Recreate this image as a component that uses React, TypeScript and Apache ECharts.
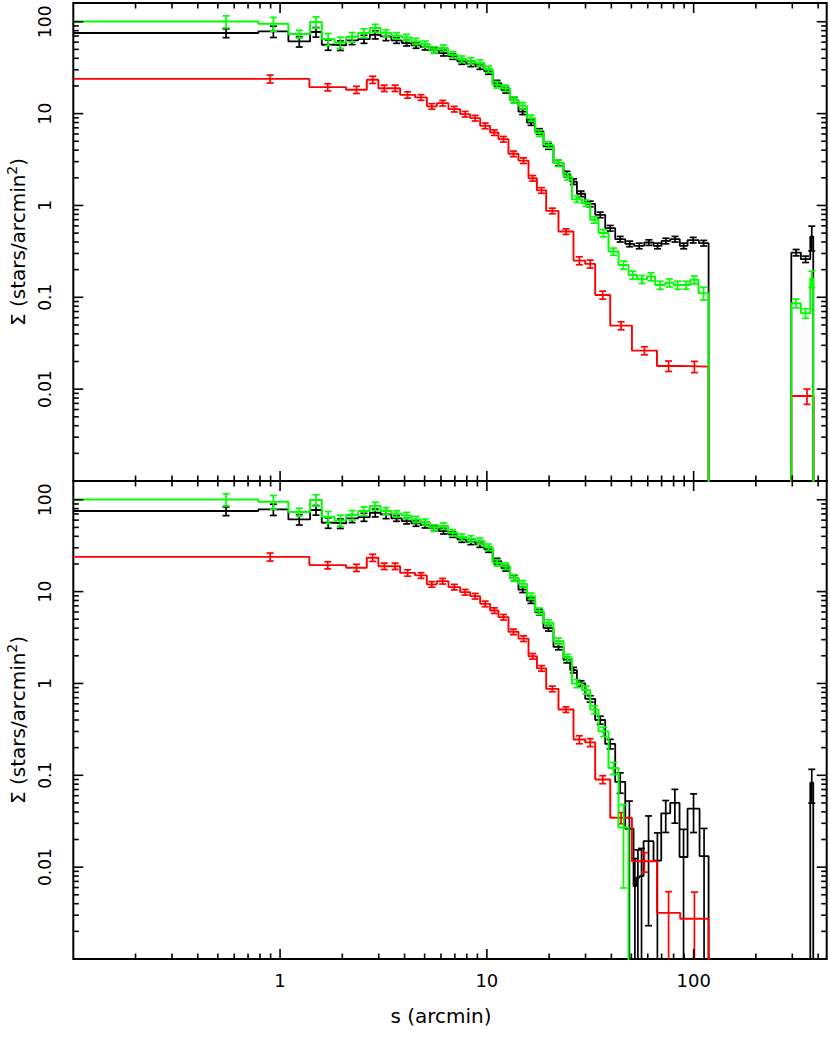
import React, { useEffect, useRef } from "react";
import * as echarts from "echarts";

// ---------- axes ----------
const X_MIN = 0.1;
const X_MAX = 440;
const Y_MIN = 0.001;
const Y_MAX = 160;
const X_TICK_LABELS = ["1", "10", "100"]; // decades 10^0..10^2
const Y_TICK_LABELS = ["0.01", "0.1", "1", "10", "100"]; // decades 10^-2..10^2
const X_TITLE = "s (arcmin)";
const Y_TITLE = "{n|Σ (stars/arcmin}{s|2}{n|)}";
const FONT = "DejaVu Sans";

// ---------- bin edges (arcmin) ----------
const innerEdges = [0.1, 0.785, 1.097, 1.397, 1.591, 1.835, 2.086, 2.384, 2.716, 3.064, 3.455, 3.879, 4.317, 4.783, 5.289, 5.859, 6.5, 7.201, 7.958, 8.809, 9.726, 10.67, 11.76, 12.94, 14.22, 15.62, 17.13, 18.79, 21.0, 23.48];
const greenOuterEdges = [25.78, 28.82, 31.61, 34.67, 38.76, 43.32, 48.42, 53.18, 59.44, 65.2, 72.88, 79.96, 87.79, 96.3, 105.6, 118.1];
const greenBottomOuterEdges = [25.78, 28.82, 31.61, 34.67, 38.76, 43.32, 48.42];
const blackTopOuterEdges = [25.29, 27.25, 29.9, 33.41, 37.35, 41.75, 46.68, 51.6, 57.68, 63.97, 69.95, 77.05, 85.66, 93.43, 105.9, 118.1];
const blackBottomOuterEdges = [25.29, 27.25, 29.9, 33.41, 37.35, 41.75, 46.68, 51.21, 52.77, 54.74, 57.24, 63.97, 69.72, 77.05, 85.46, 93.43, 106.8, 118.1];
const farEdgesTop = [296.7, 330, 366.5, 378.8];
const farEdgesBottomBlack = [366.5, 378.8];
const redEdges = [0.1, 1.386, 2.086, 2.627, 2.989, 3.405, 3.807, 4.499, 5.126, 5.73, 6.52, 7.428, 8.302, 9.282, 10.37, 11.38, 12.72, 14.22, 15.9, 17.46, 19.36, 22.2, 26.24, 29.9, 33.41, 39.5, 50.29, 66.45, 86.12, 118.1];
const redFarEdges = [296.7, 380.2];

// ---------- values (stars/arcmin^2) ----------
const greenInner = [100.8, 95.1, 73.5, 99.2, 64.7, 59.6, 68.1, 75.3, 85.3, 75.3, 70.4, 67.5, 61.1, 57.1, 49.5, 51.7, 43.7, 39.2, 37.6, 35.5, 30.5, 20.6, 18.9, 14.1, 12.2, 8.92, 6.13, 4.57, 2.89];
const greenTopOuter = [2.06, 1.17, 1.06, 0.697, 0.5, 0.315, 0.225, 0.175, 0.157, 0.168, 0.136, 0.144, 0.136, 0.136, 0.155, 0.111];
const greenTopFar = [0, 0.0863, 0.0671, 0.16];
const greenBottomOuter = [1.92, 1.0, 0.85, 0.52, 0.3, 0.12, 0.027];

const blackInner = [75.4, 78.4, 61.0, 77.3, 56.2, 55.3, 62.6, 64.7, 72.2, 69.2, 62.6, 58.6, 55.3, 53.0, 48.8, 45.6, 41.9, 37.0, 34.9, 32.6, 28.8, 21.5, 18.0, 14.0, 10.5, 8.0, 6.4, 4.4, 2.9];
const blackBottomInner = [75.4, 78.4, 61.0, 77.3, 56.2, 55.3, 62.6, 64.7, 72.2, 69.2, 62.6, 58.6, 55.3, 53.0, 48.8, 45.6, 41.9, 37.0, 34.9, 32.6, 28.8, 21.5, 18.0, 14.0, 10.5, 8.0, 6.0, 4.0, 2.5];
const blackTopOuter = [2.2, 1.82, 1.34, 1.04, 0.79, 0.566, 0.43, 0.382, 0.363, 0.395, 0.363, 0.411, 0.43, 0.363, 0.42, 0.389];
const blackTopFar = [0, 0.307, 0.26, 0.458];
const blackBottomOuter = [1.8, 1.4, 1.0, 0.68, 0.4, 0.22, 0.085, 0.0262, 0.0062, 0.0077, 0.008, 0.0192, 0.0118, 0.0385, 0.0502, 0.0129, 0.0433, 0.0132];
const blackBottomFar = [0, 0.083];

const redInner = [23.9, 19.4, 18.2, 23.4, 18.9, 18.9, 16.0, 15.0, 12.0, 13.0, 11.2, 9.87, 8.93, 7.36, 6.22, 5.27, 3.65, 3.08, 1.98, 1.46, 0.873, 0.52, 0.251, 0.231, 0.106, 0.0492, 0.0263, 0.0179, 0.0176];
const redTopFar = [0, 0.00843];
const redBottom = [23.9, 19.4, 18.2, 23.4, 18.9, 18.9, 16.0, 15.0, 12.0, 13.0, 11.2, 9.87, 8.93, 7.36, 6.22, 5.27, 3.65, 3.08, 1.98, 1.46, 0.873, 0.52, 0.245, 0.228, 0.09, 0.0345, 0.0116, 0.00318, 0.00274];

// ---------- relative 1-sigma errors ----------
const greenInnerErr = [0.15, 0.17, 0.1, 0.14, 0.15, 0.14, 0.12, 0.11, 0.1, 0.09, 0.08, 0.08, 0.08, 0.08, 0.08, 0.08, 0.08, 0.08, 0.08, 0.08, 0.08, 0.08, 0.08, 0.08, 0.08, 0.08, 0.08, 0.08, 0.08];
const greenTopOuterErr = [0.08, 0.08, 0.08, 0.08, 0.09, 0.09, 0.1, 0.1, 0.1, 0.1, 0.1, 0.1, 0.1, 0.1, 0.1, 0.16];
const greenTopFarErr = [0, 0.11, 0.12, 0.2];
const greenBottomOuterErr = [0.08, 0.1, 0.1, 0.1, 0.12, 0.15, 0.78];

const blackInnerErr = [0.11, 0.14, 0.13, 0.12, 0.13, 0.12, 0.1, 0.1, 0.1, 0.1, 0.07, 0.07, 0.07, 0.07, 0.07, 0.07, 0.07, 0.07, 0.07, 0.07, 0.07, 0.07, 0.07, 0.07, 0.07, 0.07, 0.07, 0.07, 0.07];
const blackTopOuterErr = [0.07, 0.07, 0.07, 0.07, 0.07, 0.07, 0.07, 0.07, 0.07, 0.07, 0.07, 0.07, 0.07, 0.07, 0.07, 0.07];
const blackTopFarErr = [0, 0.08, 0.08, 0.3];
const blackBottomOuterErr = [0.07, 0.07, 0.07, 0.08, 0.1, 0.12, 0.25, 1.0, 1.0, 1.0, 1.0, 0.88, 1.0, 0.38, 0.4, 1.0, 0.45, 1.0];
const blackBottomFarErr = [0, 0.4];

const redInnerErr = [0.1, 0.09, 0.09, 0.09, 0.08, 0.08, 0.08, 0.07, 0.07, 0.07, 0.07, 0.07, 0.07, 0.07, 0.07, 0.07, 0.07, 0.07, 0.07, 0.07, 0.07, 0.07, 0.1, 0.1, 0.1, 0.1, 0.1, 0.13, 0.14];
const redTopFarErr = [0, 0.19];
const redBottomErr = [0.1, 0.09, 0.09, 0.09, 0.08, 0.08, 0.08, 0.07, 0.07, 0.07, 0.07, 0.07, 0.07, 0.07, 0.07, 0.07, 0.07, 0.07, 0.07, 0.07, 0.07, 0.07, 0.1, 0.1, 0.1, 0.14, 0.24, 0.7, 0.95];

// mean radius of the stars in the first (wide) bin and other special bins
const blackFirstBarX = 0.548;
const greenFirstBarX = 0.548;
const redFirstBarX = 0.895;
const redFarBarX = 353.3;

const BLACK = "#000000";
const RED = "#ff0000";
const GREEN = "#00ff00";
const FLOOR = 1e-7; // empty bins drop below the axis

function stepData(edges: number[], vals: number[]) {
  const pts: number[][] = [];
  vals.forEach((v, i) => pts.push([edges[i], v > 0 ? v : FLOOR]));
  const last = vals[vals.length - 1];
  pts.push([edges[vals.length], last > 0 ? last : FLOOR]);
  pts.push([edges[vals.length], FLOOR]);
  return pts;
}

function errData(edges: number[], vals: number[], errs: number[], overrides: Record<number, number>) {
  const out: number[][] = [];
  vals.forEach((v, i) => {
    if (!(v > 0)) return;
    const x = overrides[i] !== undefined ? overrides[i] : Math.sqrt(edges[i] * edges[i + 1]);
    const s = v * errs[i];
    out.push([x, v, v - s, v + s]);
  });
  return out;
}

function errRender(color: string) {
  return (params: any, api: any) => {
    const cs = params.coordSys;
    const top = cs.y;
    const bottom = cs.y + cs.height;
    const x = api.value(0);
    const v = api.value(1);
    const lo = api.value(2);
    const hi = api.value(3);
    const px = api.coord([x, v])[0];
    const yHi = api.coord([x, hi])[1];
    const yLo = lo > 0 ? api.coord([x, lo])[1] : bottom + 100;
    const y1 = Math.max(top, yHi);
    const y2 = Math.min(bottom, yLo);
    const st = { stroke: color, lineWidth: 1.7 };
    const ch: any[] = [];
    if (y2 > y1) ch.push({ type: "line", shape: { x1: px, y1, x2: px, y2 }, style: st });
    const cw = 3.5;
    if (yHi >= top && yHi <= bottom) ch.push({ type: "line", shape: { x1: px - cw, y1: yHi, x2: px + cw, y2: yHi }, style: st });
    if (yLo >= top && yLo <= bottom) ch.push({ type: "line", shape: { x1: px - cw, y1: yLo, x2: px + cw, y2: yLo }, style: st });
    return { type: "group", children: ch };
  };
}

function decadeMinors(decades: number[], max: number) {
  const out: number[] = [];
  decades.forEach((d) => {
    for (let m = 2; m <= 9; m++) {
      const v = d * m;
      if (v < max) out.push(v);
    }
  });
  return out;
}

const X_MAJOR = [1, 10, 100];
const X_MINOR = decadeMinors([0.1, 1, 10, 100], X_MAX);
const Y_MAJOR = [0.01, 0.1, 1, 10, 100];
const Y_MINOR = decadeMinors([0.001, 0.01, 0.1, 1, 10, 100], Y_MAX);

function tickSeries(gi: number, kind: "x" | "y") {
  const maj = kind === "x" ? X_MAJOR : Y_MAJOR;
  const min = kind === "x" ? X_MINOR : Y_MINOR;
  const items = [...maj.map((v) => [v, 10]), ...min.map((v) => [v, 5.5])];
  const data = items.map(([v, len]) => (kind === "x" ? [v, 1, len] : [1, v, len]));
  return {
    type: "custom",
    xAxisIndex: gi,
    yAxisIndex: gi,
    silent: true,
    clip: false,
    z: 20,
    data,
    renderItem: (params: any, api: any) => {
      const cs = params.coordSys;
      const len = api.value(2);
      const st = { stroke: "#000", lineWidth: 1.6 };
      if (kind === "x") {
        const px = api.coord([api.value(0), 1])[0];
        return {
          type: "group",
          children: [
            { type: "line", shape: { x1: px, y1: cs.y + cs.height, x2: px, y2: cs.y + cs.height - len }, style: st },
            { type: "line", shape: { x1: px, y1: cs.y, x2: px, y2: cs.y + len }, style: st },
          ],
        };
      }
      const py = api.coord([1, api.value(1)])[1];
      return {
        type: "group",
        children: [
          { type: "line", shape: { x1: cs.x, y1: py, x2: cs.x + len, y2: py }, style: st },
          { type: "line", shape: { x1: cs.x + cs.width, y1: py, x2: cs.x + cs.width - len, y2: py }, style: st },
        ],
      };
    },
  };
}

function lineSeries(gi: number, edges: number[], vals: number[], color: string, z: number, width: number) {
  return {
    type: "line",
    xAxisIndex: gi,
    yAxisIndex: gi,
    data: stepData(edges, vals),
    step: "end",
    symbol: "none",
    showSymbol: false,
    clip: true,
    silent: true,
    z,
    lineStyle: { color, width },
    itemStyle: { color },
  };
}

function errSeries(gi: number, edges: number[], vals: number[], errs: number[], color: string, z: number, overrides: Record<number, number>) {
  return {
    type: "custom",
    xAxisIndex: gi,
    yAxisIndex: gi,
    silent: true,
    clip: true,
    z,
    data: errData(edges, vals, errs, overrides),
    renderItem: errRender(color),
  };
}

function fmtX(v: number) {
  const e = Math.log10(v);
  const r = Math.round(e);
  if (Math.abs(e - r) > 1e-6) return "";
  return X_TICK_LABELS[r] ?? "";
}
function fmtY(v: number) {
  const e = Math.log10(v);
  const r = Math.round(e);
  if (Math.abs(e - r) > 1e-6) return "";
  return Y_TICK_LABELS[r + 2] ?? "";
}

function buildOption() {
  const greenTopEdges = [...innerEdges, ...greenOuterEdges, ...farEdgesTop];
  const greenTopVals = [...greenInner, ...greenTopOuter, ...greenTopFar];
  const greenTopErrs = [...greenInnerErr, ...greenTopOuterErr, ...greenTopFarErr];
  const greenBotEdges = [...innerEdges, ...greenBottomOuterEdges];
  const greenBotVals = [...greenInner, ...greenBottomOuter];
  const greenBotErrs = [...greenInnerErr, ...greenBottomOuterErr];

  const blackTopEdges = [...innerEdges, ...blackTopOuterEdges, ...farEdgesTop];
  const blackTopVals = [...blackInner, ...blackTopOuter, ...blackTopFar];
  const blackTopErrs = [...blackInnerErr, ...blackTopOuterErr, ...blackTopFarErr];
  const blackBotEdges = [...innerEdges, ...blackBottomOuterEdges, ...farEdgesBottomBlack];
  const blackBotVals = [...blackBottomInner, ...blackBottomOuter, ...blackBottomFar];
  const blackBotErrs = [...blackInnerErr, ...blackBottomOuterErr, ...blackBottomFarErr];

  const redTopEdges = [...redEdges, ...redFarEdges];
  const redTopVals = [...redInner, ...redTopFar];
  const redTopErrs = [...redInnerErr, ...redTopFarErr];

  const grids = [
    { left: 73.3, top: 3, width: 753.4, height: 478 },
    { left: 73.3, top: 481, width: 753.4, height: 478 },
  ];

  const titleRich = {
    n: { fontSize: 20, fontFamily: FONT, fill: "#000", color: "#000", lineHeight: 26 },
    s: { fontSize: 14, fontFamily: FONT, fill: "#000", color: "#000", verticalAlign: "top", lineHeight: 26 },
  };

  return {
    animation: false,
    backgroundColor: "#ffffff",
    grid: grids.map((g) => ({ ...g, show: true, borderColor: "#000", borderWidth: 2, backgroundColor: "transparent", containLabel: false })),
    graphic: [
      ...[242, 720].map((cy) => ({
        type: "text",
        x: 18,
        y: cy,
        rotation: Math.PI / 2,
        silent: true,
        style: { text: Y_TITLE, rich: titleRich, align: "center", verticalAlign: "middle", textAlign: "center", textVerticalAlign: "middle" },
      })),
      {
        type: "text",
        x: 441,
        y: 1016,
        silent: true,
        style: {
          text: X_TITLE,
          fontSize: 20,
          fontFamily: FONT,
          fill: "#000",
          align: "center",
          verticalAlign: "middle",
          textAlign: "center",
          textVerticalAlign: "middle",
        },
      },
    ],
    xAxis: [0, 1].map((i) => ({
      type: "log",
      logBase: 10,
      gridIndex: i,
      min: X_MIN,
      max: X_MAX,
      axisLine: { show: false },
      axisTick: { show: false },
      splitLine: { show: false },
      minorTick: { show: false },
      axisLabel:
        i === 1
          ? { show: true, formatter: fmtX, margin: 12, fontSize: 18, fontFamily: FONT, color: "#000", showMinLabel: true, showMaxLabel: true }
          : { show: false },
    })),
    yAxis: [0, 1].map((i) => ({
      type: "log",
      logBase: 10,
      gridIndex: i,
      min: Y_MIN,
      max: Y_MAX,
      axisLine: { show: false },
      axisTick: { show: false },
      splitLine: { show: false },
      minorTick: { show: false },
      axisLabel: { show: true, rotate: 90, formatter: fmtY, margin: 20, fontSize: 17, fontFamily: FONT, color: "#000", showMinLabel: true, showMaxLabel: true },
    })),
    series: [
      // top panel
      lineSeries(0, blackTopEdges, blackTopVals, BLACK, 2, 1.8),
      errSeries(0, blackTopEdges, blackTopVals, blackTopErrs, BLACK, 2, { 0: blackFirstBarX }),
      lineSeries(0, redTopEdges, redTopVals, RED, 3, 1.9),
      errSeries(0, redTopEdges, redTopVals, redTopErrs, RED, 3, { 0: redFirstBarX, 30: redFarBarX }),
      lineSeries(0, greenTopEdges, greenTopVals, GREEN, 4, 2),
      errSeries(0, greenTopEdges, greenTopVals, greenTopErrs, GREEN, 4, { 0: greenFirstBarX }),
      // bottom panel
      lineSeries(1, blackBotEdges, blackBotVals, BLACK, 2, 1.8),
      errSeries(1, blackBotEdges, blackBotVals, blackBotErrs, BLACK, 2, { 0: blackFirstBarX }),
      lineSeries(1, redEdges, redBottom, RED, 3, 1.9),
      errSeries(1, redEdges, redBottom, redBottomErr, RED, 3, { 0: redFirstBarX }),
      lineSeries(1, greenBotEdges, greenBotVals, GREEN, 4, 2),
      errSeries(1, greenBotEdges, greenBotVals, greenBotErrs, GREEN, 4, { 0: greenFirstBarX }),
      // ticks on all four sides
      tickSeries(0, "x"),
      tickSeries(0, "y"),
      tickSeries(1, "x"),
      tickSeries(1, "y"),
    ],
  };
}

export default function App() {
  const ref = useRef<HTMLDivElement>(null);
  useEffect(() => {
    if (!ref.current) return;
    const chart = echarts.init(ref.current, undefined, { renderer: "svg" });
    chart.setOption(buildOption() as any);
    return () => chart.dispose();
  }, []);
  return (
    <div
      ref={ref}
      style={{ position: "absolute", left: 0, top: 0, width: 830, height: 1038, background: "#ffffff" }}
    />
  );
}
